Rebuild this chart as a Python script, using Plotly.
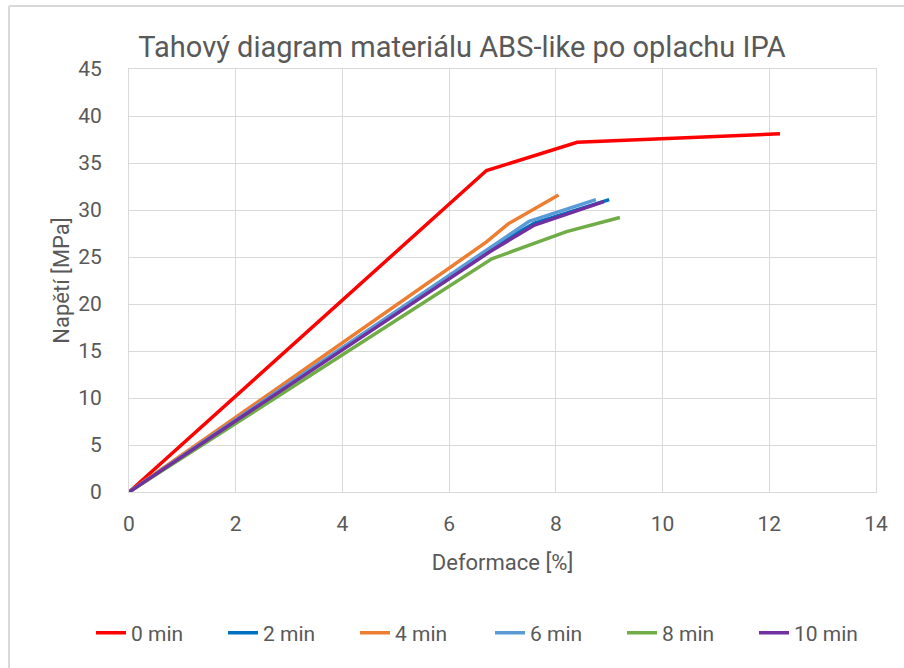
import plotly.graph_objects as go

# Tensile curves (strain %, stress MPa) for each IPA rinse time
series_names = ["0 min", "2 min", "4 min", "6 min", "8 min", "10 min"]
strain_0 = [0, 6.7, 8.4, 12.2]
stress_0 = [0, 34.2, 37.2, 38.1]
strain_2 = [0, 6.8, 7.6, 9.0]
stress_2 = [0, 26.0, 28.6, 31.1]
strain_4 = [0, 6.7, 7.1, 8.05]
stress_4 = [0, 26.6, 28.5, 31.6]
strain_6 = [0, 6.8, 7.5, 8.75]
stress_6 = [0, 26.2, 28.8, 31.1]
strain_8 = [0, 6.8, 8.2, 9.2]
stress_8 = [0, 24.8, 27.7, 29.2]
strain_10 = [0, 6.8, 7.6, 8.9]
stress_10 = [0, 25.7, 28.4, 30.9]

colors = ["#FF0000", "#0070C0", "#ED7D31", "#5B9BD5", "#70AD47", "#7030A0"]
x_ticks = [0, 2, 4, 6, 8, 10, 12, 14]
y_ticks = [0, 5, 10, 15, 20, 25, 30, 35, 40, 45]

strains = [strain_0, strain_2, strain_4, strain_6, strain_8, strain_10]
stresses = [stress_0, stress_2, stress_4, stress_6, stress_8, stress_10]

FONT = "Roboto, sans-serif"
TXT = "#595959"
GRID = "#D9D9D9"

# plot-area geometry in pixels
W, H = 904, 668
L, R, T, B = 129, 876, 69, 492
PW, PH = R - L, B - T

# legend row: split across two legend boxes so the single row does not wrap
ENTRY = 87
STEP = ENTRY + 46
LEG_LEFT = 91

fig = go.Figure()
for i, (name, xs, ys, c) in enumerate(zip(series_names, strains, stresses, colors)):
    fig.add_trace(go.Scatter(x=xs, y=ys, mode="lines", name=name,
                             legend="legend" if i < 3 else "legend2",
                             line=dict(color=c, width=3.5)))

legend_common = dict(orientation="h", xanchor="left", yref="container",
                     y=1 - 633 / H, yanchor="middle", font=dict(size=21),
                     entrywidth=ENTRY, entrywidthmode="pixels",
                     xref="container", bgcolor="rgba(0,0,0,0)")

fig.update_layout(
    width=W, height=H,
    margin=dict(l=L, r=W - R, t=T, b=H - B, autoexpand=False),
    paper_bgcolor="white", plot_bgcolor="white",
    font=dict(family=FONT, color=TXT, size=20),
    title=dict(text="Tahový diagram materiálu ABS-like po oplachu IPA",
               x=462 / W, xanchor="center", y=1 - 47 / H, yanchor="middle",
               font=dict(size=29, color=TXT, family=FONT)),
    xaxis=dict(range=[0, 14], tickvals=x_ticks, showgrid=True, gridcolor=GRID,
               gridwidth=1, showline=True, linecolor=GRID, mirror=True,
               zeroline=False, ticks="", tickfont=dict(size=21),
               ticklabelstandoff=13, automargin=False,
               title=dict(text="Deformace [%]", font=dict(size=22), standoff=19)),
    yaxis=dict(range=[0, 45], tickvals=y_ticks, showgrid=True, gridcolor=GRID,
               gridwidth=1, showline=True, linecolor=GRID, mirror=True,
               zeroline=False, ticks="", tickfont=dict(size=21),
               ticklabelstandoff=22, automargin=False,
               title=dict(text="Napětí [MPa]", font=dict(size=22), standoff=2)),
    legend=dict(x=LEG_LEFT / W, **legend_common),
    legend2=dict(x=(LEG_LEFT + 3 * STEP) / W, **legend_common),
)

# outer chart frame (left and top edges)
fx = (9 - L) / PW
fy = (B - 6) / PH
fig.add_shape(type="line", xref="paper", yref="paper",
              x0=fx, x1=fx, y0=(B - H - 5) / PH, y1=fy,
              line=dict(color=GRID, width=2))
fig.add_shape(type="line", xref="paper", yref="paper",
              x0=fx, x1=(W + 5 - L) / PW, y0=fy, y1=fy,
              line=dict(color=GRID, width=2))

fig.write_html("out.html")
